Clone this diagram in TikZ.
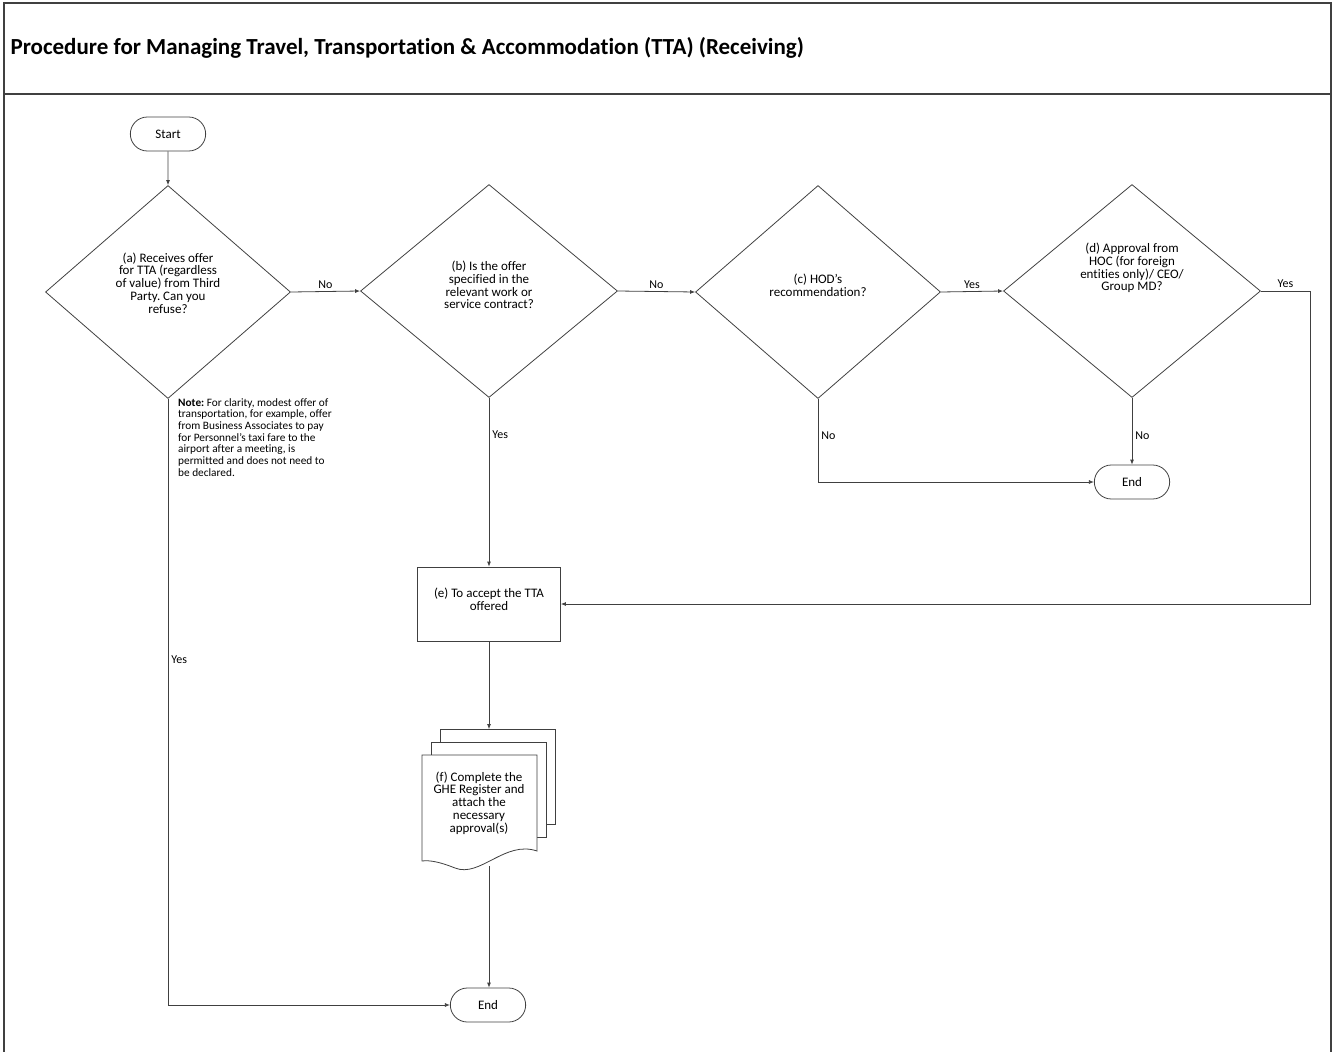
\documentclass[tikz,border=0pt]{standalone}
\usepackage{fontspec}
\setmainfont{Carlito}[Ligatures=NoCommon]
\frenchspacing
\usetikzlibrary{shapes.geometric,shapes.misc,arrows.meta}
\tikzset{
  terminal/.style={draw=black!75, line width=0.8pt, rounded rectangle, minimum width=82pt, minimum height=34pt, font=\fontsize{13}{14}\selectfont},
  decision/.style={draw=black!75, line width=0.8pt, diamond, inner sep=0pt, minimum width=#1, minimum height=213pt},
  decision/.default=245pt,
  qtext/.style={align=center, font=\fontsize{13}{12.8}\selectfont, inner sep=0pt},
  process/.style={draw=black!75, line width=0.8pt, rectangle, minimum width=143pt, minimum height=74pt},
  sheet/.style={draw=black!75, line width=0.8pt, fill=white, rectangle, minimum width=115pt, minimum height=95pt},
  flow/.style={draw=black!75, line width=0.8pt, -{Latex[length=5pt,width=4pt]}},
  lbl/.style={font=\fontsize{12}{12}\selectfont, inner sep=3pt},
}
\begin{document}
\begin{tikzpicture}[x=1pt,y=-1pt]
            \useasboundingbox (0,0) rectangle (1336,1052);
            % frame and title
            \draw[line width=1.8pt, black!75] (4,1052) -- (4,3) -- (1331,3) -- (1331,1052);
            \draw[line width=1.8pt, black!75] (4,94) -- (1331,94);
            \node[anchor=west, font=\fontsize{23}{26}\selectfont\bfseries] (title) at (7,48) {Procedure for Managing Travel, Transportation \& Accommodation (TTA) (Receiving)};
            % nodes
            \node[terminal] (start) at (168,134) {Start};
            \node[decision] (refuse) at (168,292) {};
            \node[qtext] (refusetext) at (168,283) {(a) Receives offer\\for TTA (regardless\\of value) from Third\\Party. Can you\\refuse?};
            \node[decision=257pt] (contract) at (489,291) {};
            \node[qtext] (contracttext) at (489,285) {(b) Is the offer\\specified in the\\relevant work or\\service contract?};
            \node[decision] (hod) at (818,292) {};
            \node[qtext] (hodtext) at (818,285) {(c) HOD's\\recommendation?};
            \node[decision=257pt] (approval) at (1132,291) {};
            \node[qtext] (approvaltext) at (1132,268) {(d) Approval from\\HOC (for foreign\\entities only)/ CEO/\\Group MD?};
            \node[terminal] (endb) at (1132,482) {End};
            \node[process] (accept) at (489,604) {};
            \node[qtext] (accepttext) at (489,599) {(e) To accept the TTA\\offered};
            \node[sheet] (sheetc) at (498,777) {};
            \node[sheet] (sheetb) at (488.5,790) {};
            \filldraw[fill=white, draw=black!75, line width=0.8pt] (422,755) -- (537,755) -- (537,851)
              .. controls (505,840) and (480,878) .. (455,868) .. controls (440,862) and (430,860) .. (422,861) -- cycle;
            \node[qtext] (complete) at (479,803) {(f) Complete the\\GHE Register and\\attach the\\necessary\\approval(s)};
            \coordinate (docbot) at (489,866);
            \node[terminal] (enda) at (488,1005) {End};
            \node[anchor=north west, align=left, inner sep=0pt, font=\fontsize{11.3}{11.7}\selectfont] (note) at (178,398)
              {\textbf{Note:} For clarity, modest offer of\\transportation, for example, offer\\from Business Associates to pay\\for Personnel's taxi fare to the\\airport after a meeting, is\\permitted and does not need to\\be declared.};
            % connectors
            \draw[flow] (start) -- (refuse.north);
            \draw[flow] (refuse.east) -- node[lbl, above] {No} (contract.west);
            \draw[flow] (contract.east) -- node[lbl, above] {No} (hod.west);
            \draw[flow] (hod.east) -- node[lbl, above] {Yes} (approval.west);
            \draw[flow] (approval.east) -- node[lbl, above] {Yes} (1310,291) |- (accept.east);
            \draw[flow] (hod.south) |- node[lbl, right, pos=0.22] {No} (endb.west);
            \draw[flow] (approval.south) -- node[lbl, right, pos=0.57] {No} (endb.north);
            \draw[flow] (contract.south) -- node[lbl, right, pos=0.22] {Yes} (accept.north);
            \draw[flow] (accept.south) -- (sheetc.north -| accept.south);
            \draw[flow] (docbot) -- (enda.north -| docbot);
            \draw[flow] (refuse.south) |- node[lbl, right, pos=0.215] {Yes} (enda.west);
          \end{tikzpicture}
\end{document}
